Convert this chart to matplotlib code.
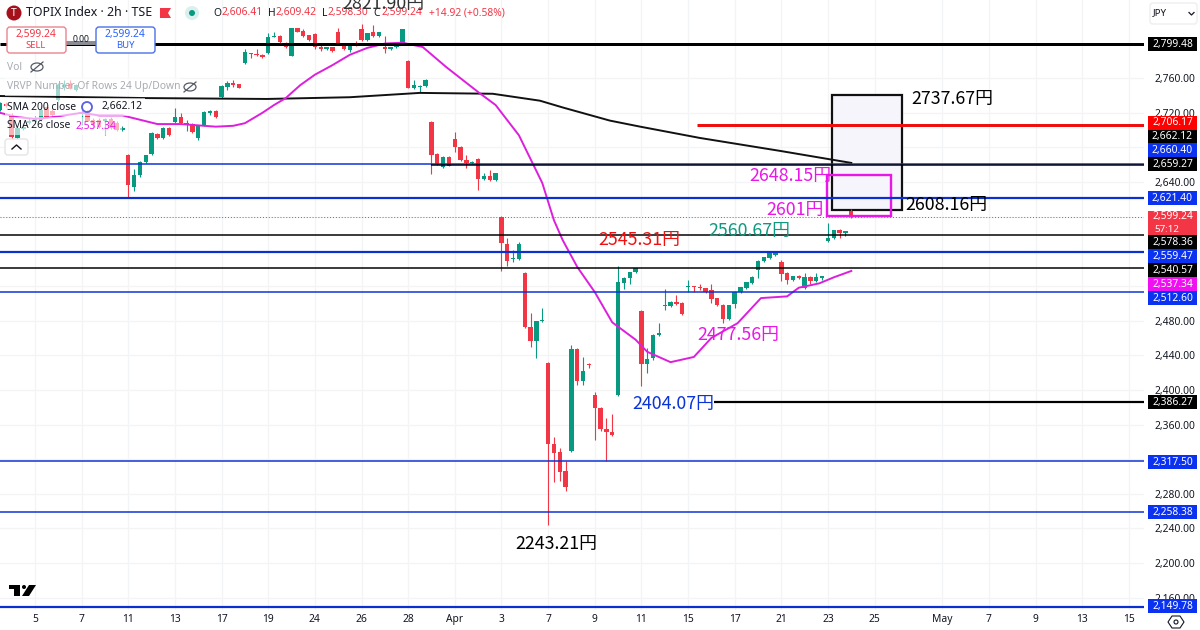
"""TOPIX 2h candlestick chart with hand drawn levels, TradingView style."""
import matplotlib
matplotlib.use("Agg")
import matplotlib.pyplot as plt
from matplotlib.patches import Rectangle, FancyBboxPatch, Polygon, Circle, Ellipse
from matplotlib.lines import Line2D
from matplotlib.transforms import Affine2D

W, H = 1200, 630
PLOT_RIGHT, PLOT_BOTTOM = 1144, 610
UI_FONT = ["Noto Sans", "DejaVu Sans"]
JP_FONT = ["Noto Sans CJK JP", "DejaVu Sans"]

UP = "#089981"
DOWN = "#f23645"
BLUE = "#0a30d2"
TAG_BLUE = "#0a32f0"
MAGENTA = "#e817e8"
INK = "#131722"

first_bar = -6
opens = [2723, 2730, 2717, 2691, 2701, 2708, 2709, 2712, 2727, 2722, 2735, 2750, 2753, 2746, 2719, 2721, 2712, 2712, 2711, 2713, 2708, 2700,
         2671, 2634, 2648, 2663, 2672, 2696, 2691, 2703, 2709, 2715, 2707, 2707, 2691, 2706, 2720, 2722,
         2738, 2750, 2754, 2753, 2778, 2789, 2788, 2787, 2789, 2808, 2809, 2801, 2786, 2818, 2815, 2810,
         2811, 2796, 2794, 2796, 2813, 2798, 2793, 2801, 2817, 2804, 2813, 2809, 2796, 2794, 2796, 2801,
         2780, 2749, 2750, 2751, 2709, 2672, 2657, 2669, 2690, 2681, 2666, 2662, 2667, 2644, 2647, 2642,
         2600, 2568, 2551, 2551, 2535, 2473, 2456, 2480, 2431, 2338, 2328, 2306, 2329, 2447, 2410, 2430,
         2394, 2379, 2355, 2351, 2394, 2523, 2529, 2536, 2491, 2430, 2437, 2463, 2497, 2497, 2502, 2500,
         2519, 2520, 2519, 2518, 2515, 2506, 2498, 2482, 2499, 2513, 2518, 2523, 2539, 2549, 2552, 2556,
         2548, 2535, 2527, 2532, 2518, 2530, 2526, 2529, 2572, 2575, 2585, 2581, 2606.41]
highs = [2732, 2733, 2720, 2704, 2706, 2714, 2716, 2729, 2729, 2724, 2754, 2758, 2758, 2753, 2731, 2723, 2714, 2714, 2714, 2715, 2711, 2705,
         2672, 2655, 2664, 2671, 2698, 2697, 2704, 2704, 2726, 2720, 2712, 2708, 2706, 2722, 2723, 2723,
         2752, 2757, 2758, 2753, 2794, 2789, 2794, 2788, 2812, 2813, 2810, 2802, 2818, 2818, 2817, 2810,
         2812, 2800, 2796, 2796, 2818, 2800, 2799, 2803, 2823, 2812, 2822, 2813, 2809, 2796, 2800, 2817,
         2781, 2758, 2752, 2759, 2711, 2674, 2670, 2670, 2698, 2682, 2671, 2664, 2668, 2651, 2654, 2651,
         2601, 2575, 2562, 2571, 2536, 2489, 2480, 2495, 2432, 2346, 2333, 2318, 2452, 2448, 2438, 2431,
         2397, 2380, 2368, 2372, 2543, 2530, 2536, 2541, 2492, 2448, 2464, 2477, 2517, 2503, 2510, 2502,
         2527, 2520, 2522, 2518, 2522, 2506, 2499, 2498, 2514, 2519, 2525, 2531, 2550, 2554, 2559, 2560,
         2550, 2536, 2532, 2533, 2535, 2532, 2535, 2531, 2593, 2585, 2586, 2584, 2609.42]
lows = [2722, 2727, 2685, 2690, 2700, 2707, 2708, 2711, 2714, 2716, 2734, 2746, 2747, 2745, 2706, 2710, 2704, 2703, 2694, 2701, 2699, 2699,
        2623, 2630, 2646, 2662, 2671, 2690, 2690, 2693, 2708, 2707, 2699, 2697, 2689, 2705, 2718, 2714,
        2737, 2746, 2750, 2749, 2776, 2783, 2786, 2783, 2788, 2807, 2800, 2795, 2786, 2813, 2808, 2803,
        2794, 2791, 2793, 2790, 2798, 2793, 2790, 2797, 2803, 2803, 2807, 2808, 2789, 2793, 2795, 2800,
        2749, 2748, 2744, 2750, 2649, 2660, 2656, 2658, 2675, 2664, 2656, 2661, 2631, 2642, 2641, 2641,
        2537, 2543, 2548, 2550, 2472, 2450, 2437, 2478, 2244, 2294, 2295, 2283, 2328, 2406, 2406, 2425,
        2342, 2352, 2318, 2347, 2393, 2516, 2522, 2535, 2404, 2420, 2434, 2462, 2492, 2496, 2498, 2486,
        2513, 2513, 2515, 2512, 2500, 2497, 2477, 2481, 2495, 2512, 2516, 2522, 2529, 2548, 2551, 2555,
        2526, 2522, 2526, 2528, 2517, 2522, 2525, 2527, 2571, 2574, 2575, 2578, 2598.30]
closes = [2731, 2728, 2692, 2702, 2704, 2711, 2714, 2723, 2715, 2718, 2752, 2752, 2749, 2752, 2721, 2711, 2706, 2704, 2713, 2703, 2700, 2703,
          2637, 2648, 2663, 2671, 2697, 2691, 2703, 2694, 2715, 2708, 2708, 2698, 2706, 2721, 2722, 2715,
          2751, 2754, 2752, 2749, 2790, 2788, 2787, 2784, 2808, 2809, 2802, 2796, 2818, 2813, 2809, 2804,
          2796, 2794, 2796, 2791, 2798, 2794, 2798, 2798, 2804, 2812, 2809, 2813, 2794, 2796, 2800, 2817,
          2749, 2752, 2751, 2758, 2671, 2661, 2669, 2659, 2681, 2666, 2662, 2663, 2644, 2647, 2642, 2650,
          2570, 2549, 2552, 2569, 2473, 2456, 2480, 2481, 2338, 2327, 2305, 2288, 2447, 2410, 2422, 2429,
          2379, 2355, 2351, 2348, 2525, 2529, 2536, 2541, 2430, 2436, 2463, 2466, 2498, 2502, 2499, 2488,
          2520, 2519, 2518, 2513, 2505, 2498, 2482, 2498, 2513, 2519, 2525, 2530, 2549, 2554, 2558, 2559,
          2534, 2527, 2532, 2529, 2530, 2526, 2530, 2531, 2575, 2585, 2581, 2584, 2599.24]

sma26_bars = [-6, -3, 0, 3, 8, 11, 15, 18, 21, 25, 29, 31, 34, 36, 39, 41, 43, 45.5, 48, 51, 54, 57, 60, 63,
              66.5, 70.5, 76, 79, 83, 87, 89, 90.5, 93, 96, 99, 100, 103, 105, 109, 113, 116, 120.5, 124.5,
              129, 131, 134.5, 137, 140]
sma26_vals = [2720, 2715, 2713, 2715, 2720, 2717, 2717, 2712, 2707, 2707, 2705, 2704, 2705, 2708, 2720, 2729, 2737, 2752, 2764, 2775, 2787, 2795, 2800, 2801,
              2796, 2773, 2744, 2729, 2694, 2639, 2596, 2573, 2542, 2513, 2478, 2473, 2458, 2444, 2432, 2438, 2460, 2477, 2506,
              2508, 2518, 2523, 2530, 2537.34]
sma200_bars = [-6, 19.4, 39.8, 54, 66, 78.5, 86.6, 90.6, 98.6, 103.8, 114, 127.8, 140]
sma200_vals = [2739.4, 2737, 2736, 2738, 2743, 2742, 2734, 2726, 2711, 2704, 2691, 2676, 2662.12]

# level, colour, width in px, first bar (None = from the left edge)
level_vals = [2799.48, 2706.17, 2660.40, 2659.27, 2621.40, 2578.36, 2559.47, 2540.57, 2512.60, 2386.27, 2317.50, 2258.38, 2149.78]
level_cols = ["black", "#f00f0f", BLUE, "black", BLUE, "black", BLUE, "black", BLUE, "black", BLUE, BLUE, BLUE]
level_wids = [3, 3, 1.5, 1.5, 2.2, 1.5, 2.2, 1.5, 1.5, 2.2, 1.5, 1.5, 2.2]
level_from = [None, 113.5, None, 68, None, None, None, None, None, 116.5, None, None, None]

box_bars = [136.7, 148.7]
box_vals = [2608.16, 2740.6]
pink_bars = [135.9, 146.8]
pink_vals = [2601, 2648.15]

price_ticks = list(range(2160, 2801, 40))
covered_ticks = [2320, 2520, 2560, 2600, 2680, 2800]  # sit fully behind a price tag
date_ticks = [0, 8, 16, 24, 32, 40, 48, 56, 64, 72, 80, 88, 96, 104, 112, 120, 128, 136, 144, 155.6, 163.6, 171.6, 179.6, 187.6]
date_labels = ["5", "7", "11", "13", "17", "19", "24", "26", "28", "Apr", "3", "7", "9", "11", "15", "17", "21", "23", "25", "May", "7", "9", "13", "15"]

tag_labels = ["2,799.48", "2,706.17", "2,662.12", "2,660.40", "2,659.27", "2,621.40", "2,578.36", "2,559.47", "2,540.57", "2,537.34", "2,512.60", "2,386.27", "2,317.50", "2,258.38", "2,149.78"]
tag_cols = ["black", "#ff0000", "black", TAG_BLUE, "black", TAG_BLUE, "black", TAG_BLUE, "black", "#f00ff0", TAG_BLUE, "black", TAG_BLUE, TAG_BLUE, TAG_BLUE]
tag_rows = [44, 123, 137, 150, 164, 198, 242, 256, 270, 284, 298, 402, 462, 512, 606]

# text, left px, centre px, colour
notes = [("2821.90円", 342, 4, "#333333"), ("2737.67円", 911, 99, "black"), ("2648.15円", 749, 176, MAGENTA),
         ("2608.16円", 905, 205, "black"), ("2601円", 766, 210, MAGENTA), ("2560.67円", 708, 231, "#0f9a80"),
         ("2545.31円", 598, 240, "#f01010"), ("2477.56円", 697, 335, MAGENTA), ("2404.07円", 632, 404, "#0b34d8"),
         ("2243.21円", 515, 544, "black")]

fig = plt.figure(figsize=(W / 100, H / 100), dpi=100, facecolor="white")
# everything outside the price pane is placed in reference pixels, y down
PX = Affine2D().scale(1 / W, -1 / H).translate(0, 1) + fig.transFigure


def txt(x, y, s, color=INK, size=7.4, ha="left", family=UI_FONT, **kw):
    return fig.text(x, y, s, color=color, fontsize=size, ha=ha, va="center", family=family, transform=PX, **kw)


def add(artist):
    artist.set_transform(PX)
    fig.add_artist(artist)
    return artist


def px_rect(x0, y0, x1, y1, **kw):
    return add(Rectangle((x0, y0), x1 - x0, y1 - y0, **kw))


def px_round(x0, y0, x1, y1, **kw):
    return add(FancyBboxPatch((x0, y0), x1 - x0, y1 - y0, boxstyle="round,pad=0,rounding_size=3", **kw))


def px_line(xs, ys, **kw):
    return add(Line2D(xs, ys, **kw))


def eye(x, y):
    # crossed-out eye next to hidden indicators
    add(Ellipse((x, y), 12, 8, fill=False, ec="#555b66", lw=0.9, zorder=3))
    px_line([x - 6, x + 6], [y + 5, y - 5], color="#555b66", lw=0.9, zorder=3)


ax = fig.add_axes([0, 1 - PLOT_BOTTOM / H, PLOT_RIGHT / W, PLOT_BOTTOM / H])
ax.set_xlim(-6, 190.2)
ax.set_ylim(2850.3 - 610 * 1.155, 2850.3)

ax.set_yticks(price_ticks)
ax.set_yticklabels(["" if p in covered_ticks else f"{p:,.2f}" for p in price_ticks],
                   fontsize=7.4, color=INK, family=UI_FONT)
ax.yaxis.tick_right()
ax.set_xticks(date_ticks)
ax.set_xticklabels(date_labels, fontsize=7.4, color=INK, family=UI_FONT)
for lab, name in zip(ax.get_xticklabels(), date_labels):
    if name in ("Apr", "May"):
        lab.set_fontweight("bold")
ax.tick_params(axis="both", length=0)
ax.tick_params(axis="x", pad=3)
ax.tick_params(axis="y", pad=7.5)
ax.grid(True, color="#f3f4f6", lw=0.9)
ax.set_axisbelow(True)
for s in ax.spines.values():
    s.set_visible(False)

# trade boxes sit under the horizontal levels
ax.add_patch(Rectangle((box_bars[0], box_vals[0]), box_bars[1] - box_bars[0], box_vals[1] - box_vals[0],
                       fc="#f5f5fb", ec="#111111", lw=1.6, zorder=1.5))

# candles
bars = list(range(first_bar, first_bar + len(opens)))
colors = [UP if c >= o else DOWN for o, c in zip(opens, closes)]
ax.vlines(bars, lows, highs, colors=colors, lw=0.8, zorder=2)
ax.bar(bars, [abs(c - o) for o, c in zip(opens, closes)], bottom=[min(o, c) for o, c in zip(opens, closes)],
       width=0.75, color=colors, lw=0, zorder=2.1)

ax.plot(sma200_bars, sma200_vals, color="#111111", lw=1.4, zorder=3)
ax.plot(sma26_bars, sma26_vals, color="#dd1fdd", lw=1.4, zorder=3)

for val, col, wid, start in zip(level_vals, level_cols, level_wids, level_from):
    ax.hlines(val, -6 if start is None else start, 190.2, color=col, lw=wid * 0.72, zorder=4)

ax.hlines(closes[-1], -6, 190.2, color="#f23645", lw=0.7, linestyles=(0, (1, 2)), zorder=3)

ax.add_patch(Rectangle((pink_bars[0], pink_vals[0]), pink_bars[1] - pink_bars[0], pink_vals[1] - pink_vals[0],
                       ec=MAGENTA, lw=1.7, zorder=3.5, fill=False))

# hand written labels
for s, x, y, col in notes:
    txt(x, y, s, color=col, size=12.8, family=JP_FONT, zorder=6)

# legend rows fade what is behind them
for x0, y0, x1, y1 in [(5, 78, 180, 96), (5, 98, 145, 116), (5, 117, 122, 135)]:
    px_rect(x0, y0, x1, y1, fc="white", alpha=0.62, lw=0, zorder=2)

# header
add(Circle((14, 13), 7.5, fc="#a5101a", lw=0, zorder=3))
txt(14, 13, "T", color="white", size=7.5, ha="center", fontweight="bold", zorder=4)
txt(26, 13, "TOPIX Index · 2h · TSE", size=8.9)
add(Polygon([(160, 8), (171, 8), (168, 13), (171, 18), (160, 18)], fc="#f23645", lw=0, zorder=3))
add(Circle((192, 13), 7, fc="#d9f0ed", lw=0, zorder=3))
add(Circle((192, 13), 3, fc=UP, lw=0, zorder=3))
for x_key, key, x_val, val in [(213, "O", 221, "2,606.41"), (268, "H", 275, "2,609.42"),
                               (322, "L", 327, "2,598.30"), (373, "C", 382, "2,599.24")]:
    txt(x_key, 13, key)
    txt(x_val, 13, val, color=DOWN)
txt(429, 13, "+14.92 (+0.58%)", color=DOWN)

# sell / buy
px_rect(66, 41, 96, 45, fc="#8a8d94", lw=0, zorder=2.5)
px_round(7, 27, 66, 53, fc="white", ec="#e9858f", lw=1, zorder=3)
px_round(96, 27, 155, 53, fc="white", ec="#4a72e8", lw=1, zorder=3)
txt(36, 35, "2,599.24", color=DOWN, ha="center", zorder=4)
txt(36, 46, "SELL", color=DOWN, size=6.8, ha="center", zorder=4)
txt(125, 35, "2,599.24", color="#2962ff", ha="center", zorder=4)
txt(125, 46, "BUY", color="#2962ff", size=6.8, ha="center", zorder=4)
txt(81, 40, "0.00", size=6.2, ha="center", zorder=4)

# indicator rows
txt(7, 67, "Vol", color="#a8abb2")
eye(37, 67)
txt(7, 87, "VRVP Number Of Rows 24 Up/Down", color="#a8abb2")
eye(190, 87)
txt(7, 107, "SMA 200 close", zorder=4)
add(Circle((87, 107), 5, fill=False, ec="#5b5fe0", lw=1.3, zorder=3))
txt(102, 107, "2,662.12", zorder=4)
txt(7, 126, "SMA 26 close", zorder=4)
txt(75, 126, "2,537.34", color=MAGENTA, zorder=4)
px_round(5, 139, 28, 155, fc="white", ec="#e4e5e8", lw=1, zorder=3)
px_line([12, 16.5, 21], [149, 145, 149], color=INK, lw=1, zorder=4)

# TradingView mark
add(Polygon([(9, 585), (20, 585), (20, 596), (14, 596), (14, 589), (9, 589)], fc="black", lw=0, zorder=3))
add(Circle((24, 587), 2, fc="black", lw=0, zorder=3))
add(Polygon([(29, 585), (36, 585), (29, 596), (22, 596)], fc="black", lw=0, zorder=3))

# currency box and settings icon
px_round(1150, 3, 1197, 24, fc="white", ec="#eceef1", lw=1, zorder=3)
txt(1153, 13, "JPY", size=7, zorder=4)
px_line([1189, 1191.5, 1194], [12.5, 15, 12.5], color=INK, lw=0.9, zorder=4)
add(Polygon([(1168, 622), (1172, 616), (1180, 616), (1184, 622), (1180, 628), (1172, 628)], fill=False, ec=INK, lw=0.8, zorder=3))
add(Circle((1176, 622), 2, fill=False, ec=INK, lw=0.8, zorder=3))

# price tags
for s, col, y in zip(tag_labels, tag_cols, tag_rows):
    px_rect(1148, y - 7, 1197, y + 7, fc=col, lw=0, zorder=4)
    txt(1172.5, y, s, color="white", ha="center", zorder=5)
px_rect(1148, 211, 1197, 235, fc="#f23645", lw=0, zorder=4)
txt(1172.5, 217, "2,599.24", color="white", ha="center", zorder=5)
txt(1154, 229, "57:12", color="white", size=7, zorder=5)

fig.savefig("out.png", dpi=100)
